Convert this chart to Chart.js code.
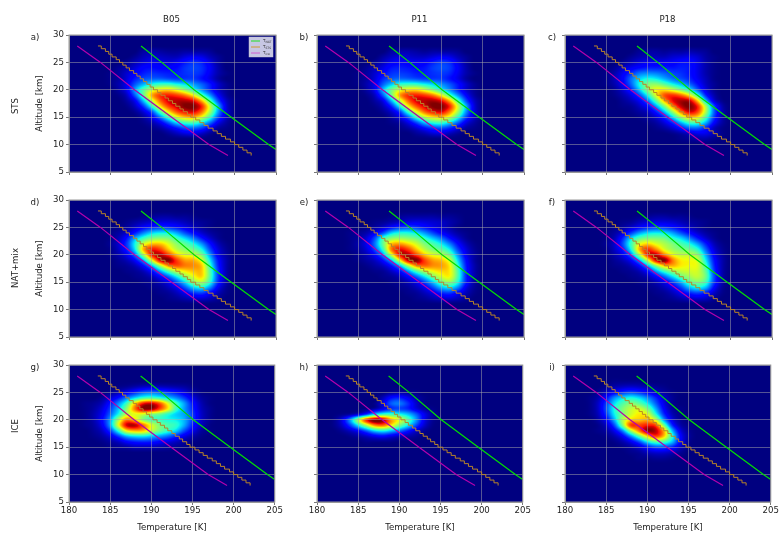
<!DOCTYPE html>
<html>
<head>
<meta charset="utf-8">
<script src="https://cdn.jsdelivr.net/npm/chart.js@4"></script>
<style>
  html, body { margin: 0; padding: 0; background: #fff; }
  #page { position: relative; width: 779px; height: 533px; overflow: hidden; font-family: "DejaVu Sans", sans-serif; font-size: 8.6px; color: #222; filter: blur(0.35px); }
  canvas { position: absolute; }
  .lab { position: absolute; white-space: nowrap; transform: translate(-50%, -50%); }
  .rot { transform: translate(-50%, -50%) rotate(-90deg); }
</style>
</head>
<body>
<div id="page"></div>
<script>
// axes of the retrieval grid
const gridTemps = [182, 183, 184, 185, 186, 187, 188, 189, 190, 191, 192, 193, 194, 195, 196, 197, 198, 199, 200];
const gridAlts = [28, 27, 26, 25, 24, 23, 22, 21, 20, 19, 18, 17, 16, 15, 14, 13, 12, 11];

const tempTicks = [180, 185, 190, 195, 200, 205];
const altTicks = [5, 10, 15, 20, 25, 30];

// existence temperatures against altitude
const natAlts = [28, 25, 20, 15, 10, 9.1];
const natTemps = [188.7, 191.2, 195.1, 199.6, 204.1, 205];
const iceAlts = [28, 25, 20, 15, 10, 8];
const iceTemps = [181, 183.8, 187.9, 192.4, 196.9, 199.2];
const stsAlts = [28, 27.5, 27, 26.5, 26, 25.5, 25, 24.5, 24, 23.5, 23, 22.5, 22, 21.5, 21, 20.5, 20, 19.5, 19, 18.5, 18, 17.5, 17, 16.5, 16, 15.5, 15, 14.5, 14, 13.5, 13, 12.5, 12, 11.5, 11, 10.5, 10, 9.5, 9, 8.5, 8];
const stsTemps = [183.5, 183.9, 184.4, 184.8, 185.2, 185.7, 186.1, 186.5, 186.9, 187.3, 187.8, 188.2, 188.6, 189, 189.4, 189.8, 190.2, 190.7, 191.1, 191.6, 192, 192.5, 192.9, 193.4, 193.8, 194.3, 194.7, 195.3, 195.8, 196.3, 196.8, 197.4, 197.9, 198.4, 198.9, 199.5, 200, 200.5, 201, 201.5, 202];

// relative frequency in percent, rows follow gridAlts, columns gridTemps (missing = 0)
const stsB05 = [
  [],
  [0,0,0,0,0,0,0,3,4,3,2,2,3,3,3,2],
  [0,0,0,0,0,0,2,5,7,6,5,5,8,10,9,5,2],
  [0,0,0,0,0,2,5,8,10,9,8,10,14,17,15,9,3],
  [0,0,0,0,2,4,8,12,13,12,12,13,17,19,17,11,4],
  [0,0,0,1,3,7,11,15,17,16,15,15,17,18,16,10,4,1],
  [0,0,0,1,3,8,15,20,22,22,20,18,18,18,14,9,3],
  [0,0,0,1,4,10,21,30,38,42,42,38,34,28,22,15,7,2],
  [0,0,0,0,3,10,28,45,58,66,68,62,52,40,28,17,7,2],
  [0,0,0,0,1,6,22,46,72,85,88,85,78,65,45,28,12,3],
  [0,0,0,0,0,3,11,32,58,80,92,95,95,90,72,45,20,6,1],
  [0,0,0,0,0,1,6,18,40,66,84,93,100,100,88,60,30,8,1],
  [0,0,0,0,0,0,2,8,20,44,66,82,90,92,80,56,28,8,1],
  [0,0,0,0,0,0,0,3,10,24,43,60,70,72,62,42,20,6,1],
  [0,0,0,0,0,0,0,1,4,10,21,34,42,44,36,24,10,3],
  [0,0,0,0,0,0,0,0,1,3,8,14,20,22,18,10,3,1],
  [0,0,0,0,0,0,0,0,0,0,2,5,8,9,6,2],
  []
];
const stsP11 = [
  [],
  [0,0,0,0,0,0,0,3,4,4,3,2,3,3,3,2],
  [0,0,0,0,0,0,3,6,8,7,6,6,8,10,9,5,2],
  [0,0,0,0,0,2,6,10,12,11,10,11,15,18,16,9,3],
  [0,0,0,0,2,5,9,14,15,14,13,14,18,20,18,11,4],
  [0,0,0,1,3,7,12,17,18,17,15,15,17,18,16,10,4,1],
  [0,0,0,1,3,8,16,21,23,22,20,18,18,18,14,9,3],
  [0,0,0,1,4,10,22,32,40,42,41,37,33,27,21,14,7,2],
  [0,0,0,0,3,10,30,48,60,66,67,60,50,38,27,16,7,2],
  [0,0,0,0,1,6,22,48,74,86,88,85,78,64,44,27,12,3],
  [0,0,0,0,0,3,10,31,57,80,92,95,96,90,72,45,20,6,1],
  [0,0,0,0,0,1,5,16,38,64,82,92,100,100,88,60,30,8,1],
  [0,0,0,0,0,0,2,7,18,42,63,80,89,92,78,55,27,8,1],
  [0,0,0,0,0,0,0,3,9,21,41,57,66,68,60,40,19,6,1],
  [0,0,0,0,0,0,0,1,3,9,19,32,40,42,34,22,9,3],
  [0,0,0,0,0,0,0,0,1,3,7,13,18,20,16,9,3,1],
  [0,0,0,0,0,0,0,0,0,0,2,4,7,8,5,2],
  []
];
const stsP18 = [
  [],
  [0,0,0,0,0,0,0,2,3,3,2,3,3,4,3,2],
  [0,0,0,0,0,0,2,4,5,5,5,7,8,9,7,3,1],
  [0,0,0,0,0,2,5,8,10,10,10,11,13,13,9,4,1],
  [0,0,0,0,2,6,10,13,15,15,15,14,15,14,9,4,1],
  [0,0,0,1,4,10,17,24,26,25,22,19,17,14,9,4,1],
  [0,0,0,1,5,12,23,33,38,36,30,24,20,16,10,5,1],
  [0,0,0,1,4,11,22,38,50,52,46,38,31,23,14,6,2],
  [0,0,0,0,2,7,16,32,52,64,66,60,50,38,22,9,2],
  [0,0,0,0,1,4,9,20,38,62,82,86,80,66,42,16,4],
  [0,0,0,0,0,2,5,11,24,46,72,90,96,94,70,32,8,1],
  [0,0,0,0,0,1,2,6,13,28,50,76,94,100,88,55,20,4],
  [0,0,0,0,0,0,1,3,6,15,31,54,78,92,84,56,22,5],
  [0,0,0,0,0,0,0,1,3,7,16,33,54,68,66,44,18,4],
  [0,0,0,0,0,0,0,0,1,3,8,17,30,42,42,30,12,3],
  [0,0,0,0,0,0,0,0,0,1,3,7,14,21,22,15,5,1],
  [0,0,0,0,0,0,0,0,0,0,0,1,3,6,9,9,5,1],
  [0,0,0,0,0,0,0,0,0,0,0,0,1,2,3,3,1]
];
const natB05 = [
  [],
  [0,0,0,0,0,0,0,1,2,3,3,2,2,1],
  [0,0,0,0,0,1,3,5,7,8,8,7,5,3,2,1],
  [0,0,0,0,1,3,7,12,16,18,17,14,10,6,3,1],
  [0,0,0,1,3,7,15,25,33,36,35,29,20,13,7,3,1],
  [0,0,0,1,5,14,30,42,50,52,50,42,34,25,15,7,2],
  [0,0,0,2,7,18,38,60,70,70,62,52,46,38,27,14,5,1],
  [0,0,0,1,6,16,36,72,88,84,70,58,52,48,38,20,8,2],
  [0,0,0,1,4,10,24,55,88,95,85,70,62,60,50,28,10,3],
  [0,0,0,0,2,5,12,30,62,92,100,85,74,72,62,36,14,4],
  [0,0,0,0,1,2,5,13,30,55,76,82,78,76,70,42,16,4],
  [0,0,0,0,0,1,2,5,13,28,45,58,66,70,70,46,18,4],
  [0,0,0,0,0,0,1,2,5,12,22,36,50,62,68,46,18,4],
  [0,0,0,0,0,0,0,1,2,5,10,20,34,50,56,40,16,4],
  [0,0,0,0,0,0,0,0,1,2,5,10,20,32,36,26,10,2],
  [0,0,0,0,0,0,0,0,0,1,2,5,10,16,18,12,5,1],
  [0,0,0,0,0,0,0,0,0,0,1,2,4,6,7,5,2],
  []
];
const natP11 = [
  [],
  [0,0,0,0,0,0,0,1,2,3,3,3,3,2,2,1],
  [0,0,0,0,0,1,2,4,6,8,9,8,7,6,4,2],
  [0,0,0,0,1,3,7,13,18,20,18,14,10,7,4,1],
  [0,0,1,2,4,10,20,33,38,38,34,27,19,12,7,3,1],
  [0,0,1,3,8,20,42,52,54,52,48,40,32,24,14,7,2],
  [0,0,1,4,10,24,48,70,74,68,60,50,44,36,25,13,5,1],
  [0,0,1,3,8,20,42,78,90,84,70,58,50,46,36,19,8,2],
  [0,0,0,2,5,12,28,60,90,95,84,70,62,58,48,27,10,3],
  [0,0,0,1,3,6,14,32,64,94,100,84,74,70,60,34,13,3],
  [0,0,0,0,1,3,6,14,30,55,76,80,76,74,66,40,15,4],
  [0,0,0,0,0,1,2,6,13,27,44,56,64,68,66,44,16,4],
  [0,0,0,0,0,0,1,2,5,12,22,35,48,60,64,44,16,4],
  [0,0,0,0,0,0,0,1,2,5,10,19,32,46,52,38,15,3],
  [0,0,0,0,0,0,0,0,1,2,5,10,19,30,34,25,9,2],
  [0,0,0,0,0,0,0,0,0,1,2,5,9,15,17,11,5,1],
  [0,0,0,0,0,0,0,0,0,0,1,2,4,6,7,5,2],
  []
];
const natP18 = [
  [],
  [0,0,0,0,0,0,0,1,2,3,3,2,2,1],
  [0,0,0,0,0,1,2,5,7,8,8,7,5,3,2,1],
  [0,0,0,0,1,3,7,12,16,18,17,14,10,6,3,1],
  [0,0,0,1,3,8,18,28,34,36,34,28,20,13,7,3,1],
  [0,0,0,1,5,16,34,46,50,50,48,40,34,25,15,7,2],
  [0,0,0,2,7,20,42,62,68,62,56,50,44,38,28,15,5,1],
  [0,0,0,1,6,16,38,72,86,76,62,54,50,48,40,22,8,2],
  [0,0,0,1,4,10,25,56,88,94,78,64,58,58,52,30,11,3],
  [0,0,0,0,2,5,12,30,60,92,100,78,66,64,60,36,14,4],
  [0,0,0,0,1,2,5,13,30,52,70,72,66,64,62,42,16,4],
  [0,0,0,0,0,1,2,5,13,28,42,52,58,60,60,46,18,4],
  [0,0,0,0,0,0,1,2,5,12,22,34,46,54,58,48,20,4],
  [0,0,0,0,0,0,0,1,2,5,10,18,30,44,50,42,18,4],
  [0,0,0,0,0,0,0,0,1,2,5,10,18,30,36,30,12,2],
  [0,0,0,0,0,0,0,0,0,1,2,5,10,15,18,14,6,1],
  [0,0,0,0,0,0,0,0,0,0,1,2,4,6,7,6,2],
  []
];
const iceB05 = [
  [],
  [],
  [0,0,0,0,1,2,4,6,7,6,5,4,3,1],
  [0,0,0,2,5,10,16,22,24,22,18,14,9,4,1],
  [0,0,2,7,14,24,34,42,44,40,33,26,18,9,3,1],
  [1,2,5,14,26,42,68,88,92,82,62,42,28,14,5,1],
  [1,3,8,18,32,52,78,98,98,84,66,42,28,16,6,2],
  [1,4,10,22,38,58,62,60,52,48,40,33,28,18,7,2],
  [1,4,12,28,55,78,70,52,44,42,38,36,30,18,7,2],
  [1,3,10,28,62,92,95,80,62,50,44,40,29,15,6,1],
  [0,2,6,18,40,65,72,70,58,48,40,33,20,10,3,1],
  [0,1,3,8,18,30,35,36,32,28,23,16,9,4,1],
  [0,0,1,3,6,12,15,16,15,12,9,6,3,1],
  [0,0,0,1,2,3,5,5,5,4,3,2,1],
  [], [], [], []
];
const iceP11 = [
  [],
  [],
  [],
  [0,0,0,0,0,0,0,2,3,2,1],
  [0,0,0,0,0,0,5,13,15,10,4,1],
  [0,0,0,0,0,1,9,21,24,17,7,1],
  [0,0,0,0,1,4,10,17,19,16,9,3,1],
  [0,1,3,8,18,34,42,42,38,32,22,10,3],
  [1,8,26,55,85,100,95,74,62,46,28,10,2],
  [1,6,18,36,56,76,80,66,50,36,20,7,1],
  [0,2,6,12,22,34,38,32,24,15,7,2],
  [0,0,1,3,6,10,12,9,6,4,2],
  [0,0,0,0,1,1,1,1],
  [], [], [], [], []
];
const iceP18 = [
  [],
  [0,0,0,0,1,1,1,1],
  [0,0,0,2,4,6,7,6,4,2,1],
  [0,0,2,6,11,17,20,17,12,7,3,1],
  [0,1,4,13,26,34,38,34,26,16,7,2],
  [0,1,6,18,34,44,50,46,36,22,9,2],
  [0,1,6,20,38,50,58,60,50,30,12,3,1],
  [0,1,5,17,36,50,60,66,62,40,17,5,1],
  [0,0,3,11,30,55,68,70,72,60,28,9,2],
  [0,0,1,6,20,50,84,84,88,84,50,17,4,1],
  [0,0,1,3,10,26,55,78,98,95,72,32,9,2],
  [0,0,0,1,4,11,26,46,68,84,70,40,13,3],
  [0,0,0,0,1,4,10,20,36,46,44,32,12,2],
  [0,0,0,0,0,1,3,7,14,20,20,15,6,1],
  [0,0,0,0,0,0,1,2,5,7,7,5,2],
  [0,0,0,0,0,0,0,1,1,2,2,1],
  [], []
];

const columnTitles = ['B05', 'P11', 'P18'];
const rowTitles = ['STS', 'NAT+mix', 'ICE'];
const panelLetters = ['a)', 'b)', 'c)', 'd)', 'e)', 'f)', 'g)', 'h)', 'i)'];
const panelGrids = [stsB05, stsP11, stsP18, natB05, natP11, natP18, iceB05, iceP11, iceP18];

const colLefts = [69, 317, 565];
const rowTops = [35, 200, 365];
const panelW = 207;
const panelH = 137;
const leftPad = 40, topPad = 8, rightPad = 8, bottomPad = 32;

function interp(t, stops) {
  if (t <= stops[0][0]) return stops[0][1];
  for (let i = 1; i < stops.length; i++) {
    if (t <= stops[i][0]) {
      const a = stops[i - 1], b = stops[i];
      return a[1] + (b[1] - a[1]) * (t - a[0]) / (b[0] - a[0]);
    }
  }
  return stops[stops.length - 1][1];
}

// same stops as the matplotlib jet map
const jetR = [[0.35, 0], [0.66, 1], [0.89, 1], [1, 0.5]];
const jetG = [[0.125, 0], [0.375, 1], [0.64, 1], [0.91, 0]];
const jetB = [[0, 0.5], [0.11, 1], [0.34, 1], [0.65, 0]];

function catmull(a, b, c, d, t) {
  return 0.5 * (2 * b + (c - a) * t + (2 * a - 5 * b + 4 * c - d) * t * t + (3 * b - a - 3 * c + d) * t * t * t);
}

function cell(grid, r, c) {
  const row = grid[r];
  if (!row) return 0;
  return row[c] || 0;
}

// smooth lookup of the grid at a temperature and altitude, like imshow interpolation
function sample(grid, temp, alt) {
  const fc = temp - gridTemps[0];
  const fr = gridAlts[0] - alt;
  const c0 = Math.floor(fc), r0 = Math.floor(fr);
  const tc = fc - c0, tr = fr - r0;
  const vals = [];
  for (let r = -1; r <= 2; r++) {
    vals.push(catmull(cell(grid, r0 + r, c0 - 1), cell(grid, r0 + r, c0), cell(grid, r0 + r, c0 + 1), cell(grid, r0 + r, c0 + 2), tc));
  }
  return catmull(vals[0], vals[1], vals[2], vals[3], tr);
}

function heatPlugin(grid) {
  return {
    id: 'heat',
    beforeDraw(chart) {
      const area = chart.chartArea;
      const w = Math.round(area.right - area.left), h = Math.round(area.bottom - area.top);
      const off = document.createElement('canvas');
      off.width = w;
      off.height = h;
      const octx = off.getContext('2d');
      const img = octx.createImageData(w, h);
      for (let j = 0; j < h; j++) {
        const alt = chart.scales.y.getValueForPixel(area.top + j + 0.5);
        for (let i = 0; i < w; i++) {
          const temp = chart.scales.x.getValueForPixel(area.left + i + 0.5);
          const v = Math.max(0, Math.min(1, sample(grid, temp, alt) / 100));
          const k = (j * w + i) * 4;
          img.data[k] = 255 * interp(v, jetR);
          img.data[k + 1] = 255 * interp(v, jetG);
          img.data[k + 2] = 255 * interp(v, jetB);
          img.data[k + 3] = 255;
        }
      }
      octx.putImageData(img, 0, 0);
      chart.ctx.drawImage(off, area.left, area.top);
    },
    afterDraw(chart) {
      // frame round the axes
      const a = chart.chartArea;
      chart.ctx.save();
      chart.ctx.strokeStyle = '#999';
      chart.ctx.lineWidth = 1;
      chart.ctx.strokeRect(a.left, a.top, a.right - a.left, a.bottom - a.top);
      chart.ctx.restore();
    }
  };
}

// small legend inside the first panel, built from the dataset labels and colours
const legendPlugin = {
  id: 'miniLegend',
  afterDraw(chart) {
    const ctx = chart.ctx;
    const area = chart.chartArea;
    const x0 = area.right - 27, y0 = area.top + 2;
    ctx.save();
    ctx.fillStyle = 'rgba(255,255,255,0.78)';
    ctx.strokeStyle = 'rgba(200,200,200,0.9)';
    ctx.lineWidth = 0.5;
    ctx.fillRect(x0, y0, 24, 20);
    ctx.strokeRect(x0, y0, 24, 20);
    chart.data.datasets.forEach((ds, i) => {
      const y = y0 + 4 + i * 6;
      ctx.strokeStyle = ds.legendColor;
      ctx.lineWidth = 1;
      ctx.beginPath();
      ctx.moveTo(x0 + 2, y);
      ctx.lineTo(x0 + 11, y);
      ctx.stroke();
      ctx.fillStyle = '#333';
      ctx.textBaseline = 'middle';
      ctx.font = '4px "DejaVu Sans"';
      ctx.fillText('T', x0 + 14, y);
      ctx.font = '3px "DejaVu Sans"';
      ctx.fillText(ds.label.slice(1), x0 + 16.4, y + 1);
    });
    ctx.restore();
  }
};

function toPoints(temps, alts) {
  return temps.map((t, i) => ({ x: t, y: alts[i] }));
}

const page = document.getElementById('page');

function addLabel(text, x, y, rotated) {
  const el = document.createElement('div');
  el.className = rotated ? 'lab rot' : 'lab';
  el.textContent = text;
  el.style.left = x + 'px';
  el.style.top = y + 'px';
  page.appendChild(el);
}

columnTitles.forEach((t, c) => addLabel(t, colLefts[c] + panelW / 2 - 1, 19));
rowTitles.forEach((t, r) => addLabel(t, 15, [106, 268, 426][r], true));
panelLetters.forEach((t, i) => addLabel(t, colLefts[i % 3] - (i % 3 === 0 ? 34 : 13), rowTops[Math.floor(i / 3)] + 2));

panelGrids.forEach((grid, i) => {
  const col = i % 3, row = Math.floor(i / 3);
  const canvas = document.createElement('canvas');
  canvas.width = panelW + leftPad + rightPad;
  canvas.height = panelH + topPad + bottomPad;
  canvas.style.left = (colLefts[col] - leftPad) + 'px';
  canvas.style.top = (rowTops[row] - topPad) + 'px';
  page.appendChild(canvas);

  const tickFont = { family: '"DejaVu Sans"', size: 8.6 };
  const gridOpts = { color: 'rgba(170,170,170,0.5)', lineWidth: 1, tickLength: 3, tickColor: '#777' };
  const borderOpts = { color: '#999', width: 1 };
  const plugins = [heatPlugin(grid)];
  if (i === 0) plugins.push(legendPlugin);

  new Chart(canvas, {
    type: 'scatter',
    data: {
      datasets: [
        { label: 'TNAT', data: toPoints(natTemps, natAlts), showLine: true, borderColor: '#00e000', legendColor: '#20e020', borderWidth: 1.2, pointRadius: 0 },
        { label: 'TSTS', data: toPoints(stsTemps, stsAlts), showLine: true, stepped: 'before', borderColor: '#b88428', legendColor: '#d09a30', borderWidth: 1, pointRadius: 0 },
        { label: 'Tice', data: toPoints(iceTemps, iceAlts), showLine: true, borderColor: '#b400ac', legendColor: '#d060d0', borderWidth: 1.2, pointRadius: 0 }
      ]
    },
    options: {
      responsive: false,
      animation: false,
      layout: { padding: { left: 0, top: topPad, right: rightPad, bottom: 0 } },
      plugins: { legend: { display: false }, tooltip: { enabled: false } },
      scales: {
        x: {
          type: 'linear', min: tempTicks[0], max: tempTicks[tempTicks.length - 1],
          afterBuildTicks: s => { s.ticks = tempTicks.map(v => ({ value: v })); },
          afterFit: s => { s.height = bottomPad; },
          grid: gridOpts, border: borderOpts,
          ticks: { display: row === 2, font: tickFont, color: '#222', padding: 1, maxRotation: 0, autoSkip: false },
          title: { display: row === 2, text: 'Temperature [K]', font: tickFont, color: '#222', padding: { top: 0, bottom: 1 } }
        },
        y: {
          type: 'linear', min: altTicks[0], max: altTicks[altTicks.length - 1],
          afterBuildTicks: s => { s.ticks = altTicks.map(v => ({ value: v })); },
          afterFit: s => { s.width = leftPad; },
          grid: gridOpts, border: borderOpts,
          ticks: { display: col === 0, font: tickFont, color: '#222', padding: 2, autoSkip: false },
          title: { display: col === 0, text: 'Altitude [km]', font: tickFont, color: '#222', padding: { top: 6, bottom: 0 } }
        }
      }
    },
    plugins: plugins
  });
});
</script>
</body>
</html>
